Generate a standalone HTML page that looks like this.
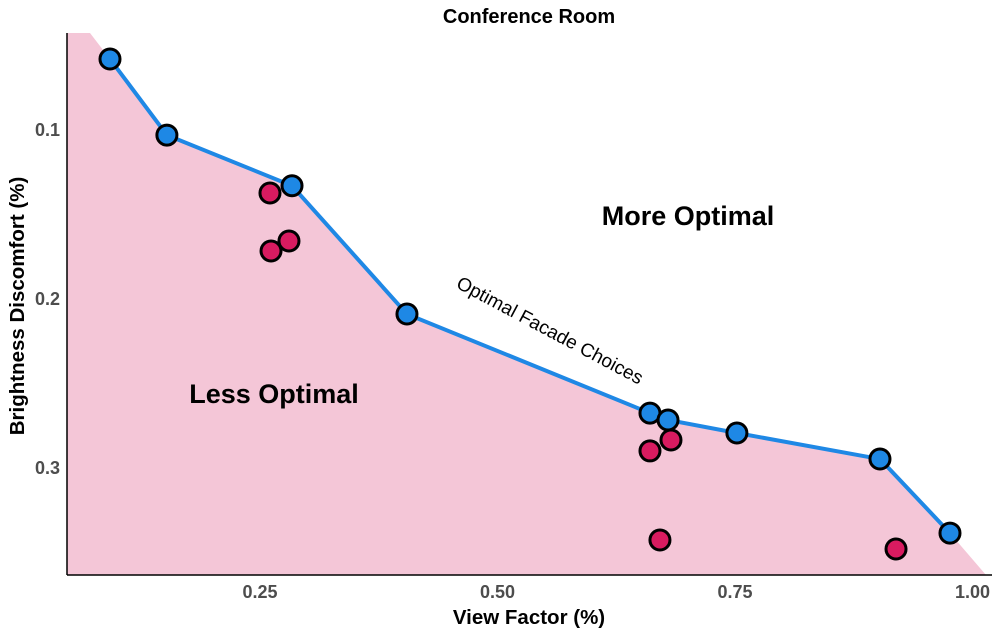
<!DOCTYPE html>
<html><head><meta charset="utf-8"><style>
body{margin:0;background:#fff;}
svg{display:block;font-family:"Liberation Sans",sans-serif;}
</style></head><body>
<svg id="chart" width="1000" height="633" viewBox="0 0 1000 633">
<text x="529" y="23" text-anchor="middle" font-size="20" font-weight="bold">Conference Room</text>
<g id="plot"></g>
<line x1="67" y1="33" x2="67" y2="575" stroke="#000" stroke-width="1.5"/>
<line x1="67" y1="575" x2="992" y2="575" stroke="#000" stroke-width="1.5"/>
<g id="ticks" font-size="18" font-weight="bold" fill="#4d4d4d"></g>
<text x="529" y="624" text-anchor="middle" font-size="20.5" font-weight="bold">View Factor (%)</text>
<text transform="translate(24,306) rotate(-90)" text-anchor="middle" font-size="20.5" font-weight="bold">Brightness Discomfort (%)</text>
<text x="688" y="225" text-anchor="middle" font-size="27" font-weight="bold">More Optimal</text>
<text x="274" y="403" text-anchor="middle" font-size="27" font-weight="bold">Less Optimal</text>
<text transform="translate(547,336) rotate(28)" text-anchor="middle" font-size="19">Optimal Facade Choices</text>
</svg>
<script>
const optX=[0.0921,0.152,0.2837,0.4047,0.6605,0.6795,0.752,0.9026,0.9763];
const optY=[0.058,0.103,0.133,0.2089,0.2675,0.2716,0.2793,0.2947,0.3385];
const subX=[0.2605,0.2616,0.2805,0.6605,0.6826,0.671,0.9195];
const subY=[0.1373,0.1716,0.1657,0.2899,0.2834,0.3426,0.3479];
const xTicks=[0.25,0.5,0.75,1.0];
const xTickLabels=["0.25","0.50","0.75","1.00"];
const yTicks=[0.1,0.2,0.3];
const yTickLabels=["0.1","0.2","0.3"];
const sx=v=>22.5+v*950;
const sy=v=>-39+v*1690;
const NS="http://www.w3.org/2000/svg";
const plot=document.getElementById('plot');
function mk(tag,attrs,parent){const e=document.createElementNS(NS,tag);for(const k in attrs)e.setAttribute(k,attrs[k]);parent.appendChild(e);return e;}
let pts=[[67,575],[67,33],[90,33]];
optX.forEach((x,i)=>pts.push([sx(x),sy(optY[i])]));
pts.push([986,575]);
const area=mk('polygon',{points:pts.map(p=>p.join(',')).join(' '),fill:'#f4c6d7'},plot);


const line=mk('polyline',{points:optX.map((x,i)=>sx(x)+','+sy(optY[i])).join(' '),fill:'none',stroke:'#1f88e5','stroke-width':4},plot);


subX.forEach((x,i)=>{const c=mk('circle',{cx:sx(x),cy:sy(subY[i]),r:10,fill:'#d81b60',stroke:'#000','stroke-width':3},plot);

});
optX.forEach((x,i)=>{const c=mk('circle',{cx:sx(x),cy:sy(optY[i]),r:10,fill:'#1e88e5',stroke:'#000','stroke-width':3},plot);

});
const tg=document.getElementById('ticks');
xTicks.forEach((v,i)=>{const t=mk('text',{x:sx(v),y:598,'text-anchor':'middle'},tg);t.textContent=xTickLabels[i];

});
yTicks.forEach((v,i)=>{const t=mk('text',{x:60,y:sy(v)+6,'text-anchor':'end'},tg);t.textContent=yTickLabels[i];

});
</script>
</body></html>
